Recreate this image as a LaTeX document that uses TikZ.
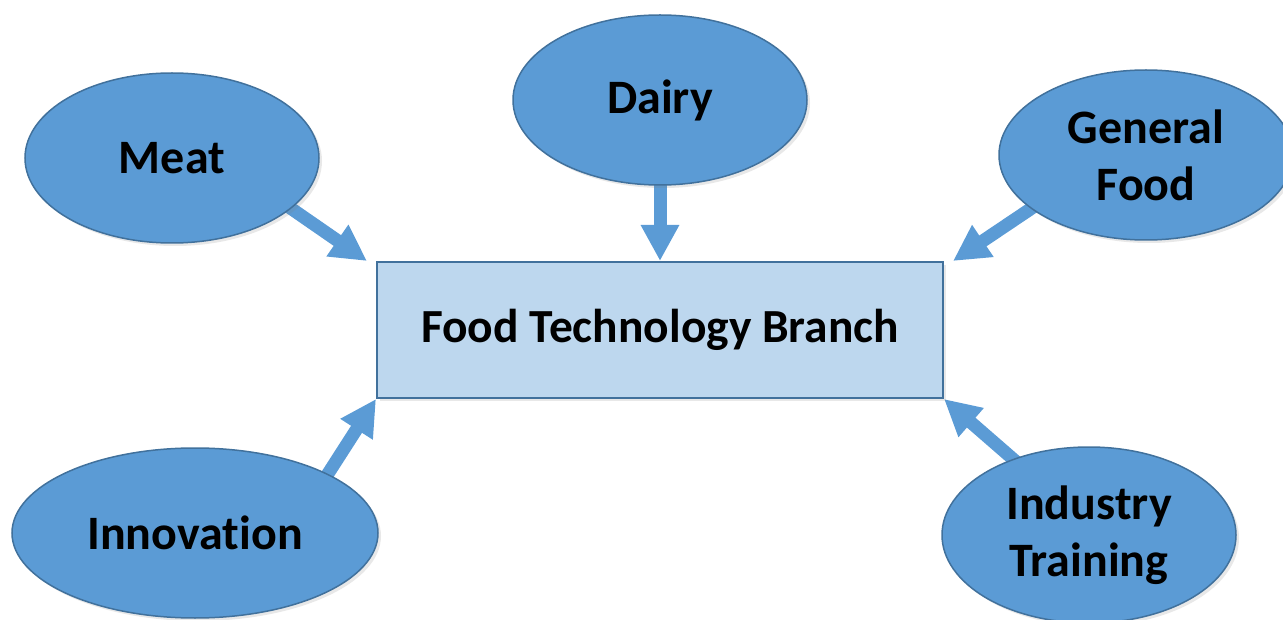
\documentclass[tikz,border=0pt]{standalone}
\usepackage{fontspec}
\setmainfont{Carlito}[Ligatures={NoCommon}]
\usetikzlibrary{arrows.meta,shapes.geometric,shadows,backgrounds}

\definecolor{topicblue}{HTML}{5B9BD5}
\definecolor{edgeblue}{HTML}{41719C}
\definecolor{branchblue}{HTML}{BDD7EE}

\begin{document}
\begin{tikzpicture}[x=1pt, y=-1pt,
		topic/.style={ellipse, draw=edgeblue, line width=1.5pt, fill=topicblue, inner sep=0pt,
			minimum width=294pt, minimum height=170pt, align=center,
			font=\fontsize{48}{57}\selectfont\bfseries,
			drop shadow={opacity=0.18, shadow xshift=3pt, shadow yshift=-3pt}},
		branchbox/.style={rectangle, draw=edgeblue, line width=2pt, fill=branchblue, inner sep=0pt,
			minimum width=566pt, minimum height=136pt,
			font=\fontsize{47.5}{57}\selectfont\bfseries,
			drop shadow={opacity=0.18, shadow xshift=3pt, shadow yshift=-3pt}},
		feed/.style={draw=topicblue, line width=13pt, shorten <=-14pt,
			-{Triangle[width=36pt, length=36pt]}}]
		\useasboundingbox (0, 0) rectangle (1283, 620);
		\node[branchbox] (branch) at (660, 330) {Food Technology Branch};
		\node[topic] (meat) at (172, 158) {Meat};
		\node[topic] (dairy) at (660, 100) {Dairy};
		\node[topic] (general) at (1146, 155) {General\\Food};
		\node[topic, minimum width=366pt] (innovation) at (195, 533) {Innovation};
		\node[topic, minimum height=176pt] (industry) at (1089, 535) {Industry\\Training};
		\begin{scope}[on background layer]
			\draw[feed] (meat.-23) -- ([xshift=-9pt]branch.north west);
			\draw[feed] (dairy.south) -- (branch.north);
			\draw[feed] (general.205) -- ([xshift=9pt]branch.north east);
			\draw[feed] (innovation.24) -- (branch.south west);
			\draw[feed] (industry.135) -- (branch.south east);
		\end{scope}
	\end{tikzpicture}
\end{document}
